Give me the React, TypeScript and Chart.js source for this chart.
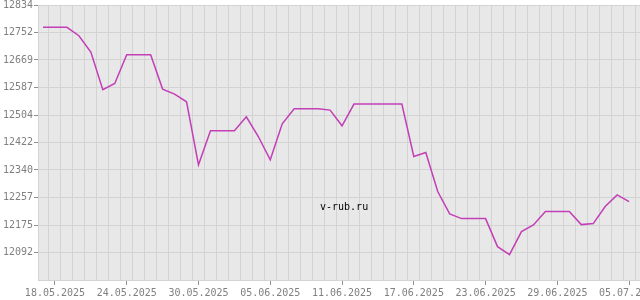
import { useEffect, useRef } from 'react';
import { Chart, registerables } from 'chart.js';
Chart.register(...registerables);

const dates = [
  '17.05.2025', '18.05.2025', '19.05.2025', '20.05.2025', '21.05.2025', '22.05.2025', '23.05.2025', '24.05.2025',
  '25.05.2025', '26.05.2025', '27.05.2025', '28.05.2025', '29.05.2025', '30.05.2025', '31.05.2025',
  '01.06.2025', '02.06.2025', '03.06.2025', '04.06.2025', '05.06.2025', '06.06.2025', '07.06.2025', '08.06.2025',
  '09.06.2025', '10.06.2025', '11.06.2025', '12.06.2025', '13.06.2025', '14.06.2025', '15.06.2025', '16.06.2025',
  '17.06.2025', '18.06.2025', '19.06.2025', '20.06.2025', '21.06.2025', '22.06.2025', '23.06.2025', '24.06.2025',
  '25.06.2025', '26.06.2025', '27.06.2025', '28.06.2025', '29.06.2025', '30.06.2025',
  '01.07.2025', '02.07.2025', '03.07.2025', '04.07.2025', '05.07.2025',
];

const rates = [
  12767, 12767, 12767, 12742, 12693, 12580, 12599, 12685, 12685, 12685,
  12582, 12567, 12544, 12355, 12457, 12457, 12457, 12499, 12440, 12370,
  12478, 12523, 12523, 12523, 12519, 12472, 12537, 12537, 12537, 12537,
  12537, 12380, 12392, 12275, 12208, 12194, 12194, 12194, 12110, 12086,
  12155, 12175, 12215, 12215, 12215, 12176, 12179, 12230, 12265, 12245,
];

// indices into dates that carry a label on the x axis
const xLabelIndices = [1, 7, 13, 19, 25, 31, 37, 43, 49];

const yMin = 12010;
const yMax = 12834;
const yTickLabels = ['12092', '12175', '12257', '12340', '12422', '12504', '12587', '12669', '12752', '12834'];

const xMin = -0.418;
const xMax = 49.91;

const bgPlugin = {
  id: 'plotBg',
  beforeDraw(chart: any) {
    const { ctx, chartArea } = chart;
    ctx.save();
    ctx.fillStyle = '#e8e8e8';
    ctx.fillRect(chartArea.left, chartArea.top, chartArea.right - chartArea.left, chartArea.bottom - chartArea.top);
    ctx.restore();
  },
};

const watermarkPlugin = {
  id: 'watermark',
  afterDraw(chart: any) {
    const { ctx } = chart;
    ctx.save();
    ctx.fillStyle = '#000000';
    ctx.font = '10px "DejaVu Sans Mono"';
    ctx.textAlign = 'left';
    ctx.textBaseline = 'alphabetic';
    ctx.fillText('v-rub.ru', 320, 210);
    ctx.restore();
  },
};

export default function App() {
  const ref = useRef<HTMLCanvasElement | null>(null);

  useEffect(() => {
    document.body.style.margin = '0';
    const canvas = ref.current;
    if (!canvas) return;
    const gridColor = '#d3d3d3';
    const yTickValues = yTickLabels.map((_, i) => yMin + ((yMax - yMin) * (i + 1)) / yTickLabels.length);
    const chart = new Chart(canvas, {
      type: 'line',
      data: {
        datasets: [
          {
            data: rates.map((v, i) => ({ x: i, y: v })),
            borderColor: '#c23fb6',
            borderWidth: 1.5,
            pointRadius: 0,
            tension: 0,
            fill: false,
            xAxisID: 'x',
            yAxisID: 'y',
          },
        ],
      },
      options: {
        animation: false,
        responsive: false,
        devicePixelRatio: 1,
        layout: { padding: { top: 5, left: 0, right: 0, bottom: 0 } },
        plugins: {
          legend: { display: false },
          tooltip: { enabled: false },
        },
        font: { family: '"DejaVu Sans Mono"', size: 10 },
        scales: {
          x: {
            type: 'linear',
            position: 'bottom',
            min: xMin,
            max: xMax,
            afterBuildTicks: (scale: any) => {
              scale.ticks = xLabelIndices.map((v) => ({ value: v }));
            },
            afterFit: (scale: any) => {
              scale.height = 20;
              scale.paddingLeft = 0;
              scale.paddingRight = 0;
            },
            grid: {
              drawOnChartArea: false,
              drawTicks: true,
              tickLength: 5,
              tickColor: '#909090',
            },
            border: { display: true, color: gridColor },
            ticks: {
              autoSkip: false,
              maxRotation: 0,
              minRotation: 0,
              padding: 2,
              color: '#808080',
              font: { family: '"DejaVu Sans Mono"', size: 10 },
              callback: (value: any) => dates[Math.round(Number(value))] ?? '',
            },
          },
          x2: {
            type: 'linear',
            position: 'bottom',
            min: xMin,
            max: xMax,
            afterBuildTicks: (scale: any) => {
              scale.ticks = dates.map((_, i) => ({ value: i + 0.5 }));
            },
            afterFit: (scale: any) => {
              scale.height = 0;
              scale.paddingLeft = 0;
              scale.paddingRight = 0;
            },
            grid: {
              drawOnChartArea: true,
              drawTicks: false,
              color: gridColor,
            },
            border: { display: false },
            ticks: { display: false },
          },
          y: {
            type: 'linear',
            position: 'left',
            min: yMin,
            max: yMax,
            afterBuildTicks: (scale: any) => {
              scale.ticks = yTickValues.map((v) => ({ value: v }));
            },
            afterFit: (scale: any) => {
              scale.width = 38;
              scale.paddingTop = 0;
              scale.paddingBottom = 0;
            },
            grid: {
              color: gridColor,
              drawTicks: true,
              tickLength: 4,
              tickColor: '#909090',
            },
            border: { display: true, color: gridColor },
            ticks: {
              padding: 1,
              color: '#808080',
              font: { family: '"DejaVu Sans Mono"', size: 10 },
              callback: (_value: any, index: number) => yTickLabels[index] ?? '',
            },
          },
        },
      },
      plugins: [bgPlugin, watermarkPlugin],
    } as any);
    return () => chart.destroy();
  }, []);

  return (
    <div style={{ width: 640, height: 300 }}>
      <canvas ref={ref} width={640} height={300} style={{ display: 'block' }} />
    </div>
  );
}
